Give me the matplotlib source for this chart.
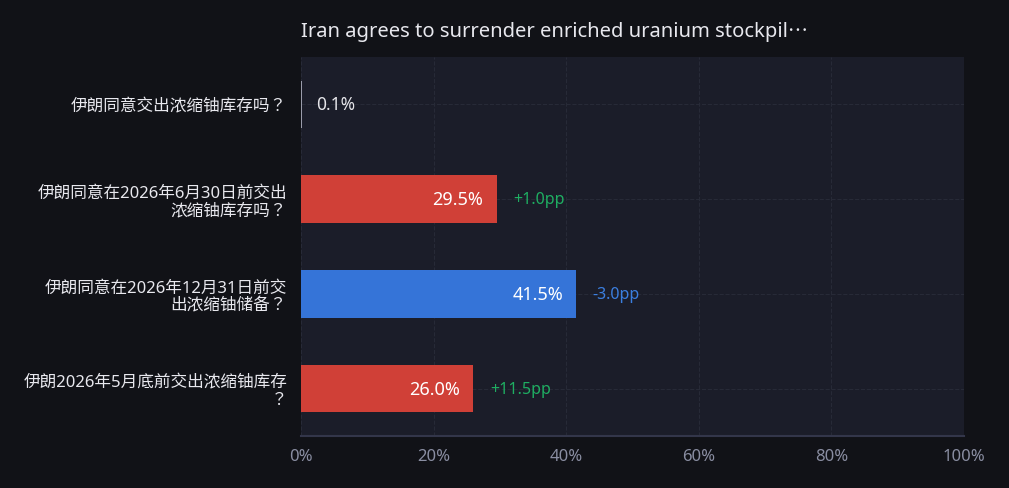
import matplotlib.pyplot as plt

plt.rcParams["font.family"] = ["Noto Sans", "Noto Sans CJK TC", "DejaVu Sans"]

title = "Iran agrees to surrender enriched uranium stockpil\u22ef"
labels = [
    "伊朗同意交出浓缩铀库存吗？",
    "伊朗同意在2026年6月30日前交出\n浓缩铀库存吗？",
    "伊朗同意在2026年12月31日前交\n出浓缩铀储备？",
    "伊朗2026年5月底前交出浓缩铀库存\n？",
]
values = [0.1, 29.5, 41.5, 26.0]
deltas = [None, "+1.0pp", "-3.0pp", "+11.5pp"]
bar_colors = ["#9a9cab", "#d04037", "#3574d8", "#d04037"]
delta_colors = [None, "#1fae62", "#3b7fe0", "#1fae62"]
xticks = [0, 20, 40, 60, 80, 100]

fig = plt.figure(figsize=(10.09, 4.89), dpi=100, facecolor="#111217")
ax = fig.add_axes([301 / 1009, 52 / 489, 663 / 1009, 379 / 489])
ax.set_facecolor("#1b1d29")

y = list(range(len(labels)))
ax.barh(y, values, height=0.5, color=bar_colors, zorder=3)

for i, (v, d, dc) in enumerate(zip(values, deltas, delta_colors)):
    if v >= 5:
        ax.text(v - 2, i, f"{v:.1f}%", ha="right", va="center",
                color="white", fontsize=13, zorder=4)
        end = v
    else:
        ax.text(v + 2.2, i, f"{v:.1f}%", ha="left", va="center",
                color="#e6e6ea", fontsize=12.5, zorder=4)
        end = v + 8
    if d:
        ax.text(end + 2.5, i, d, ha="left", va="center",
                color=dc, fontsize=11.5, zorder=4)

ax.set_xlim(0, 100)
ax.set_ylim(len(labels) - 0.5, -0.5)
ax.set_xticks(xticks)
ax.set_xticklabels([f"{t}%" for t in xticks])
ax.set_yticks(y)
ax.set_yticklabels(labels, fontsize=12, color="#e8e8ee", linespacing=1.15)
ax.tick_params(axis="x", colors="#8a8ea2", labelsize=12, length=0, pad=9)
ax.tick_params(axis="y", length=0, pad=10)

ax.grid(True, color="#272a37", linestyle="--", linewidth=0.8, zorder=0)
for side in ["top", "right", "left"]:
    ax.spines[side].set_visible(False)
ax.spines["bottom"].set_color("#33364a")
ax.spines["bottom"].set_linewidth(1.5)

fig.text(301 / 1009, 1 - 32 / 489, title, ha="left", va="center",
         color="#e8e8ee", fontsize=14.5)

fig.savefig("out.png", dpi=100, facecolor=fig.get_facecolor())
